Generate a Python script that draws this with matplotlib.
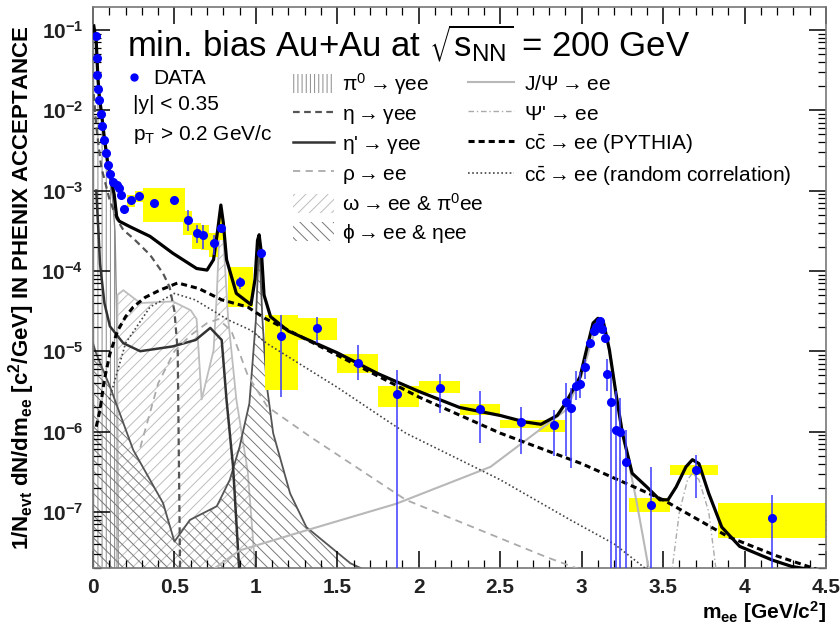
import numpy as np
import matplotlib
matplotlib.use('Agg')
import matplotlib.pyplot as plt
from matplotlib.patches import Rectangle, Patch
from matplotlib.lines import Line2D
from matplotlib.ticker import LogLocator, MultipleLocator, NullFormatter, FuncFormatter, FixedLocator

plt.rcParams['font.family'] = ['Liberation Sans', 'DejaVu Sans']
plt.rcParams['mathtext.fontset'] = 'dejavusans'
plt.rcParams['mathtext.default'] = 'regular'
plt.rcParams['hatch.linewidth'] = 0.7

# ---- data points (mass in GeV/c^2, yield) ----
data_m = [0.018, 0.022, 0.027, 0.033, 0.039, 0.047, 0.055, 0.067, 0.080, 0.094,
          0.106, 0.123, 0.145, 0.160, 0.170, 0.188, 0.232, 0.284, 0.375, 0.500,
          0.584, 0.638, 0.677, 0.740, 0.784, 0.900, 1.032, 1.153, 1.378, 1.628,
          1.869, 2.129, 2.378, 2.630, 2.830, 2.906, 2.936, 2.963, 2.988, 3.022,
          3.053, 3.074, 3.090, 3.110, 3.127, 3.141, 3.156, 3.182, 3.213, 3.233,
          3.274, 3.427, 3.700, 4.170]
data_y = [8.5e-2, 4.5e-2, 2.75e-2, 1.86e-2, 1.35e-2, 9.1e-3, 6.3e-3, 4.3e-3, 2.9e-3, 2.1e-3,
          1.62e-3, 1.29e-3, 1.17e-3, 1.07e-3, 8.9e-4, 5.9e-4, 7.6e-4, 8.5e-4, 7.1e-4, 7.6e-4,
          4.3e-4, 3.0e-4, 2.8e-4, 2.2e-4, 3.4e-4, 7.2e-5, 1.66e-4, 1.55e-5, 1.93e-5, 7.1e-6,
          2.9e-6, 3.5e-6, 1.9e-6, 1.3e-6, 1.2e-6, 2.3e-6, 1.95e-6, 3.7e-6, 3.9e-6, 6.4e-6,
          1.26e-5, 1.8e-5, 2.0e-5, 2.35e-5, 1.87e-5, 1.47e-5, 5.2e-6, 2.3e-6, 1.04e-6, 1.0e-6,
          4.2e-7, 1.2e-7, 3.3e-7, 8.5e-8]
# error bar ends (0 = runs off the bottom of the plot)
data_hi = [np.nan] * 20 + [5.8e-4, 3.7e-4, 3.7e-4, 2.8e-4, np.nan, 8.5e-5, np.nan, 2.8e-5, 2.7e-5, 1.2e-5,
           5.9e-6, 5.2e-6, 3.2e-6, 2.0e-6, 1.86e-6, 4.0e-6, 3.5e-6, 5.6e-6, 5.5e-6, 8.0e-6,
           np.nan, np.nan, np.nan, np.nan, np.nan, np.nan, 8.0e-6, 5.4e-6, 3.2e-6, 2.6e-6,
           1.05e-6, 3.6e-7, 5.1e-7, 1.6e-7]
data_lo = [np.nan] * 20 + [3.1e-4, 2.2e-4, 1.9e-4, 1.6e-4, np.nan, 6.0e-5, np.nan, 2.7e-6, 1.26e-5, 4.4e-6,
           0, 1.7e-6, 7.2e-7, 5.2e-7, 5.0e-7, 4.9e-7, 3.5e-7, 2.5e-6, 2.6e-6, 4.5e-6,
           np.nan, np.nan, np.nan, np.nan, np.nan, np.nan, 3.2e-6, 0, 0, 0,
           0, 0, 1.48e-7, 0]

# systematic boxes: left, right, bottom, top
box_l = [0.21, 0.26, 0.31, 0.44, 0.555, 0.61, 0.66, 0.71, 0.765, 0.83,
         1.055, 1.26, 1.495, 1.75, 2.0, 2.25, 2.5, 2.74, 3.29, 3.54, 3.84]
box_r = [0.26, 0.31, 0.44, 0.565, 0.61, 0.66, 0.71, 0.765, 0.80, 0.98,
         1.26, 1.495, 1.75, 2.0, 2.25, 2.5, 2.74, 2.9, 3.54, 3.84, 4.5]
box_b = [6.3e-4, 7.2e-4, 4.1e-4, 4.1e-4, 2.8e-4, 1.9e-4, 1.8e-4, 1.5e-4, 2.4e-4, 3.55e-5,
         3.3e-6, 1.38e-5, 5.4e-6, 2.0e-6, 3.0e-6, 1.62e-6, 1.1e-6, 1.0e-6, 1.0e-7, 2.9e-7, 4.7e-8]
box_t = [8.9e-4, 1.0e-3, 1.07e-3, 1.07e-3, 5.6e-4, 4.0e-4, 3.7e-4, 3.0e-4, 4.6e-4, 1.12e-4,
         2.8e-5, 2.57e-5, 9.3e-6, 3.7e-6, 4.2e-6, 2.2e-6, 1.38e-6, 1.38e-6, 1.48e-7, 3.8e-7, 1.29e-7]

# ---- cocktail curves, log10 of the yield ----
tot_m = [0.005, 0.02, 0.03, 0.04, 0.05, 0.07, 0.09, 0.11, 0.13, 0.145, 0.16, 0.227, 0.35,
         0.49, 0.636, 0.70, 0.74, 0.765, 0.785, 0.80, 0.82, 0.88, 0.97, 0.995, 1.01, 1.02,
         1.035, 1.05, 1.09, 1.2, 1.5, 1.75, 2.0, 2.25, 2.5, 2.65, 2.75, 2.85, 2.90, 2.99,
         3.03, 3.07, 3.10, 3.135, 3.17, 3.21, 3.25, 3.31, 3.40, 3.48, 3.53, 3.58, 3.64,
         3.68, 3.72, 3.78, 3.86, 3.97, 4.17, 4.29, 4.5]
tot_log = [-0.95, -1.15, -1.6, -1.85, -2.0, -2.35, -2.65, -2.85, -3.05, -3.32, -3.38, -3.45, -3.57,
           -3.78, -3.97, -3.99, -3.86, -3.5, -3.18, -3.4, -3.86, -4.28, -4.42, -4.1, -3.62, -3.55,
           -3.8, -4.3, -4.57, -4.75, -5.02, -5.28, -5.50, -5.70, -5.80, -5.88, -5.91, -5.8, -5.65, -5.32,
           -4.98, -4.65, -4.59, -4.65, -4.98, -5.52, -6.02, -6.52, -6.69, -6.85, -6.85, -6.69, -6.44,
           -6.35, -6.40, -6.77, -7.19, -7.43, -7.60, -7.68, -7.75]

pyth_m = [0.02, 0.043, 0.07, 0.104, 0.15, 0.2, 0.247, 0.32, 0.41, 0.52, 0.65, 0.79, 0.95, 1.055,
          1.5, 2.0, 2.5, 3.0, 3.5, 3.9, 4.2, 4.45]
pyth_log = [-5.94, -5.73, -5.35, -5.03, -4.75, -4.57, -4.45, -4.33, -4.24, -4.15, -4.22, -4.36, -4.45,
            -4.59, -5.05, -5.57, -6.02, -6.40, -6.85, -7.31, -7.55, -7.72]

rand_m = [0.1, 0.2, 0.35, 0.5, 0.626, 0.83, 0.97, 1.065, 1.5, 1.92, 2.5, 2.93, 3.2, 3.42]
rand_log = [-5.6, -4.9, -4.45, -4.28, -4.36, -4.61, -4.74, -4.90, -5.45, -6.02, -6.6, -7.10, -7.4, -7.75]

eta_m = [0.005, 0.02, 0.05, 0.1, 0.145, 0.186, 0.25, 0.35, 0.43, 0.47, 0.5, 0.52, 0.535]
eta_log = [-1.8, -2.2, -2.7, -3.1, -3.35, -3.49, -3.6, -3.8, -4.03, -4.2, -4.5, -5.0, -7.8]

etap_m = [0.02, 0.033, 0.043, 0.07, 0.104, 0.186, 0.29, 0.49, 0.63, 0.72, 0.79, 0.82, 0.86, 0.90]
etap_log = [-3.0, -3.49, -3.91, -4.4, -4.69, -4.90, -5.0, -4.94, -4.86, -4.71, -4.86, -5.61, -6.44, -7.8]

rho_m = [0.29, 0.4, 0.5, 0.6, 0.7, 0.77, 0.85, 0.95, 1.07, 1.33, 1.92, 2.78, 3.1]
rho_log = [-6.2, -5.4, -5.0, -4.8, -4.65, -4.6, -4.75, -5.3, -5.69, -6.06, -6.85, -7.56, -7.8]

jpsi_m = [0.68, 0.9, 1.31, 1.86, 2.44, 2.905, 3.0, 3.05, 3.09, 3.11, 3.14, 3.18, 3.22, 3.27, 3.335, 3.42]
jpsi_log = [-7.8, -7.48, -7.23, -6.90, -6.44, -5.73, -5.3, -4.95, -4.70, -4.65, -4.72, -5.1, -5.65, -6.2, -6.85, -7.8]

psip_m = [3.55, 3.6, 3.65, 3.68, 3.72, 3.78, 3.83]
psip_log = [-7.8, -7.0, -6.6, -6.52, -6.6, -7.0, -7.8]

pi0_m = [0.0, 0.005, 0.02, 0.04, 0.06, 0.08, 0.1, 0.12, 0.135, 0.145, 0.15, 0.155]
pi0_log = [-0.9, -0.95, -1.1, -1.85, -2.25, -2.55, -2.8, -3.1, -3.5, -4.5, -5.5, -7.8]

omega_m = [0.145, 0.15, 0.186, 0.29, 0.49, 0.60, 0.636, 0.667, 0.74, 0.76, 0.78, 0.80, 0.83, 0.88,
           0.95, 1.0]
omega_log = [-7.8, -4.3, -4.24, -4.40, -4.38, -4.49, -4.6, -5.6, -4.99, -4.3, -3.3, -3.6, -4.6, -5.6,
             -6.5, -7.8]

phi_m = [0.0, 0.02, 0.104, 0.247, 0.43, 0.50, 0.595, 0.76, 0.84, 0.90, 0.96, 1.0, 1.02, 1.04, 1.065,
         1.106, 1.21, 1.31, 1.58, 1.75]
phi_log = [-4.9, -5.03, -5.44, -6.23, -6.89, -7.37, -7.10, -6.93, -6.60, -6.19, -5.65, -4.61, -3.62, -4.6,
           -5.40, -6.02, -6.77, -7.19, -7.64, -7.8]

decades = [1e-7, 1e-6, 1e-5, 1e-4, 1e-3, 1e-2, 1e-1]
ymin, ymax = 2.0e-8, 0.193
floor = 1e-9


def vals(logs):
    return 10.0 ** np.array(logs)


fig = plt.figure(figsize=(8.4, 6.3), dpi=100)
ax = fig.add_axes([93 / 840, 1 - 568 / 630, 733 / 840, 561 / 630])
ax.set_yscale('log')
ax.set_xlim(0, 4.5)
ax.set_ylim(ymin, ymax)

# hatched cocktail contributions
ax.fill_between(pi0_m, floor, vals(pi0_log), facecolor='none', edgecolor='#8a8a8a',
                hatch='||||', linewidth=0, zorder=1)
ax.plot(pi0_m, vals(pi0_log), color='#8a8a8a', lw=1, zorder=1)
ax.fill_between(omega_m, floor, vals(omega_log), facecolor='none', edgecolor='#bdbdbd',
                hatch='///', linewidth=0, zorder=1)
ax.plot(omega_m, vals(omega_log), color='#bdbdbd', lw=1.3, zorder=1)
ax.fill_between(phi_m, floor, vals(phi_log), facecolor='none', edgecolor='#777777',
                hatch='\\\\\\', linewidth=0, zorder=1)
ax.plot(phi_m, vals(phi_log), color='#555555', lw=1.3, zorder=1)

# systematic uncertainties
for l, r, b, t in zip(box_l, box_r, box_b, box_t):
    ax.add_patch(Rectangle((l, b), r - l, t - b, facecolor='#ffff00', edgecolor='none', zorder=2))

# line contributions
ax.plot(eta_m, vals(eta_log), color='#555555', lw=1.6, dashes=(3, 2), zorder=3)
ax.plot(etap_m, vals(etap_log), color='#333333', lw=1.8, zorder=3)
ax.plot(rho_m, vals(rho_log), color='#aaaaaa', lw=1.3, dashes=(4, 3), zorder=3)
ax.plot(jpsi_m, vals(jpsi_log), color='#b8b8b8', lw=1.5, zorder=3)
ax.plot(psip_m, vals(psip_log), color='#aaaaaa', lw=1.0, dashes=(4, 2, 1, 2), zorder=3)
ax.plot(rand_m, vals(rand_log), color='#444444', lw=1.2, linestyle=(0, (1, 1.5)), zorder=3)
ax.plot(pyth_m, vals(pyth_log), color='black', lw=2.2, dashes=(2, 1.3), zorder=4)
ax.plot(tot_m, vals(tot_log), color='black', lw=2.3, zorder=5)

# data
dm = np.array(data_m)
dy = np.array(data_y)
hi = np.array(data_hi)
lo = np.array(data_lo)
lo = np.where(lo == 0, floor, lo)
has = ~np.isnan(hi)
ax.errorbar(dm[has], dy[has], yerr=[dy[has] - lo[has], hi[has] - dy[has]], fmt='none',
            ecolor='#3a3aff', elinewidth=1.1, zorder=6)
ax.plot(dm, dy, 'o', color='#0000ff', ms=5.5, mec='#0000ff', zorder=7)

# axes styling (ROOT-like)
for sp in ax.spines.values():
    sp.set_color('#777777')
    sp.set_linewidth(1.2)
ax.xaxis.set_major_locator(MultipleLocator(0.5))
ax.xaxis.set_minor_locator(MultipleLocator(0.1))
ax.yaxis.set_major_locator(FixedLocator(decades))
ax.yaxis.set_minor_locator(LogLocator(base=10, subs=np.arange(2, 10), numticks=20))
ax.yaxis.set_minor_formatter(NullFormatter())
ax.xaxis.set_major_formatter(FuncFormatter(lambda v, p: '%g' % v))
ax.yaxis.set_major_formatter(FuncFormatter(lambda v, p: r'10$^{%d}$' % round(np.log10(v))))
ax.tick_params(which='both', direction='in', top=True, right=True, colors='black')
ax.tick_params(which='major', length=12, width=1.1, labelsize=15, pad=7)
ax.tick_params(which='minor', length=6, width=0.9)
for lab in ax.get_xticklabels() + ax.get_yticklabels():
    lab.set_fontweight('bold')
    lab.set_color('#222222')

ax.set_xlabel(r'm$_{ee}$ [GeV/c$^{2}$]', fontsize=15, fontweight='bold', loc='right', labelpad=2)
ax.set_ylabel(r'1/N$_{evt}$ dN/dm$_{ee}$ [c$^{2}$/GeV] IN PHENIX ACCEPTANCE', fontsize=16,
              fontweight='bold', labelpad=3)

# title
fig.text(127 / 840, 1 - 43 / 630, r'min. bias Au+Au at $\sqrt{s_{NN}}$ = 200 GeV', fontsize=25,
         va='center', ha='left')

# legends
fs = 15
left_handles = [
    Patch(facecolor='none', edgecolor='#8a8a8a', hatch='||||', linewidth=0),
    Line2D([], [], color='#555555', lw=1.6, dashes=(3, 2)),
    Line2D([], [], color='#333333', lw=1.8),
    Line2D([], [], color='#aaaaaa', lw=1.3, dashes=(4, 3)),
    Patch(facecolor='none', edgecolor='#bdbdbd', hatch='///', linewidth=0),
    Patch(facecolor='none', edgecolor='#777777', hatch='\\\\\\', linewidth=0),
]
left_labels = [r'$\pi^{0}\rightarrow\gamma$ee', r'$\eta\rightarrow\gamma$ee', r"$\eta$'$\rightarrow\gamma$ee",
               r'$\rho\rightarrow$ee', r'$\omega\rightarrow$ee & $\pi^{0}$ee', r'$\phi\rightarrow$ee & $\eta$ee']
leg1 = ax.legend(left_handles, left_labels, loc='upper left', bbox_to_anchor=(293 / 840, 1 - 71 / 630),
                 bbox_transform=fig.transFigure, frameon=False, fontsize=fs, handlelength=1.95,
                 handleheight=1.0, handletextpad=0.4, labelspacing=0.34, borderpad=0, borderaxespad=0)
ax.add_artist(leg1)

right_handles = [
    Line2D([], [], color='#b8b8b8', lw=1.5),
    Line2D([], [], color='#aaaaaa', lw=1.0, dashes=(4, 2, 1, 2)),
    Line2D([], [], color='black', lw=2.2, dashes=(2, 1.3)),
    Line2D([], [], color='#444444', lw=1.2, linestyle=(0, (1, 1.5))),
]
right_labels = [r'J/$\Psi\rightarrow$ee', r"$\Psi$'$\rightarrow$ee",
                r'c$\bar{c}\rightarrow$ee (PYTHIA)', r'c$\bar{c}\rightarrow$ee (random correlation)']
leg2 = ax.legend(right_handles, right_labels, loc='upper left', bbox_to_anchor=(468 / 840, 1 - 74 / 630),
                 bbox_transform=fig.transFigure, frameon=False, fontsize=fs, handlelength=2.2,
                 handleheight=1.0, handletextpad=0.5, labelspacing=0.42, borderpad=0, borderaxespad=0)
ax.add_artist(leg2)

leg3 = ax.legend([Line2D([], [], marker='o', ls='none', color='#0000ff', ms=5)], ['DATA'],
                 loc='upper left', bbox_to_anchor=(128 / 840, 1 - 69 / 630), bbox_transform=fig.transFigure,
                 frameon=False, fontsize=fs, handlelength=0.6, handletextpad=0.6, borderpad=0, borderaxespad=0)
fig.text(133 / 840, 1 - 104 / 630, '|y| < 0.35', fontsize=fs, va='center')
fig.text(133 / 840, 1 - 135 / 630, r'p$_{T}$ > 0.2 GeV/c', fontsize=fs, va='center')

fig.savefig('out.png', dpi=100)
